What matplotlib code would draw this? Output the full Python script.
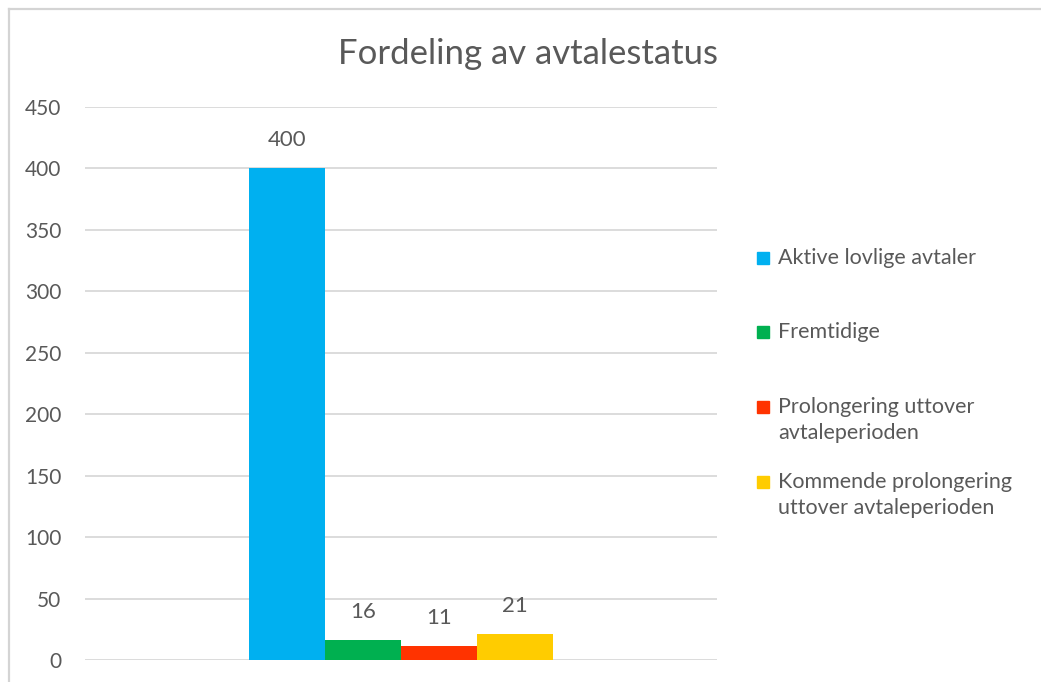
import matplotlib
matplotlib.use("Agg")
import matplotlib.pyplot as plt
from matplotlib.patches import Rectangle
from matplotlib.lines import Line2D

plt.rcParams['font.family'] = ['Lato', 'DejaVu Sans']

title = "Fordeling av avtalestatus"
series = ["Aktive lovlige avtaler", "Fremtidige",
          "Prolongering uttover\navtaleperioden",
          "Kommende prolongering\nuttover avtaleperioden"]
values = [400, 16, 11, 21]
colors = ["#00b0f0", "#00b050", "#ff3300", "#ffcc00"]
yticks = [0, 50, 100, 150, 200, 250, 300, 350, 400, 450]

W, H = 1041, 682
fig = plt.figure(figsize=(W / 100, H / 100), dpi=100)
ax = fig.add_axes([85 / W, 22 / H, (717 - 85) / W, (660 - 107) / H])

bw = 0.12
offsets = [(i - (len(values) - 1) / 2) * bw for i in range(len(values))]
bars = ax.bar(offsets, values, width=bw, color=colors, zorder=3)
for b, v in zip(bars, values):
    ax.annotate(f"{v}", (b.get_x() + b.get_width() / 2, v), xytext=(0, 13),
                textcoords="offset points", ha="center", va="bottom",
                fontsize=16, color="#595959")

ax.set_xlim(-0.5, 0.5)
ax.set_ylim(0, 450)
ax.set_yticks(yticks)
ax.set_xticks([])
ax.tick_params(axis='y', length=0, pad=17, labelsize=15, labelcolor="#595959")
ax.grid(axis='y', color="#d9d9d9", linewidth=1.3, zorder=0)
for s in ax.spines.values():
    s.set_visible(False)

fig.text(528 / W, 1 - 54 / H, title, ha="center", va="center",
         fontsize=25, color="#595959")

# legend placed manually
ys = [258, 332, 407, 482]
for y, lab, c in zip(ys, series, colors):
    fig.patches.append(Rectangle((757 / W, 1 - (y + 6) / H), 12 / W, 12 / H,
                                 transform=fig.transFigure, color=c))
    fig.text(778 / W, 1 - (y - 10) / H, lab, ha="left", va="top",
             fontsize=15.5, color="#595959", linespacing=1.4)

# outer border
fig.add_artist(Line2D([9 / W, 9 / W], [0, 1 - 9 / H], transform=fig.transFigure,
                      color="#d4d4d4", lw=1.6))
fig.add_artist(Line2D([9 / W, 1], [1 - 9 / H, 1 - 9 / H], transform=fig.transFigure,
                      color="#d4d4d4", lw=1.6))

fig.savefig("out.png", dpi=100, facecolor="white")
